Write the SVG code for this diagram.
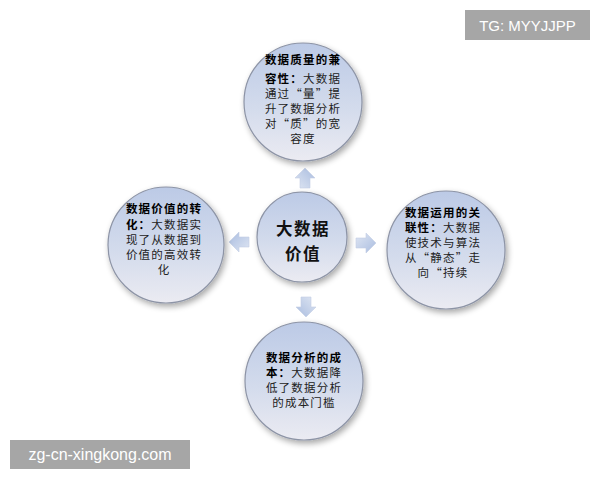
<svg xmlns="http://www.w3.org/2000/svg" width="600" height="480" viewBox="0 0 600 480">
<defs>
<linearGradient id="cg" x1="0" y1="0" x2="0" y2="1">
<stop offset="0" stop-color="#bccae6"/>
<stop offset="0.55" stop-color="#d3dbec"/>
<stop offset="1" stop-color="#ebebf2"/>
</linearGradient>
<linearGradient id="ag" x1="0" y1="0" x2="1" y2="1">
<stop offset="0" stop-color="#dfe6f3"/>
<stop offset="1" stop-color="#a9bcdf"/>
</linearGradient>
<filter id="sh" x="-20%" y="-20%" width="140%" height="140%">
<feGaussianBlur in="SourceAlpha" stdDeviation="3"/>
<feOffset dx="2" dy="3" result="b"/>
<feComponentTransfer><feFuncA type="linear" slope="0.35"/></feComponentTransfer>
<feMerge><feMergeNode/><feMergeNode in="SourceGraphic"/></feMerge>
</filter>
<polygon id="arr" points="-10,-5 0,-5 0,-10 10,0 0,10 0,5 -10,5"/>
</defs>
<style>
.c{fill:url(#cg);stroke:#8d94a6;stroke-width:1.2;filter:url(#sh)}
.t{font-family:"Noto Sans CJK SC","Noto Sans",sans-serif;font-size:11.5px;fill:#222;text-anchor:middle;letter-spacing:1.2px}
.b{font-weight:bold;fill:#000}
.m{font-family:"Noto Sans CJK SC","Noto Sans",sans-serif;font-size:16.5px;font-weight:bold;fill:#111;text-anchor:middle;letter-spacing:1.5px}
.a{fill:url(#ag);stroke:#c4cfe4;stroke-width:0.6}
.wm{fill:#a6a6a6}
.wt{font-family:"Liberation Sans","Noto Sans",sans-serif;fill:#fff}
</style>
<rect width="600" height="480" fill="#fff"/>

<g id="connectors">
<use href="#arr" class="a" transform="translate(305,178) rotate(-90)"/>
<use href="#arr" class="a" transform="translate(239,242) rotate(180)"/>
<use href="#arr" class="a" transform="translate(366,243)"/>
<use href="#arr" class="a" transform="translate(306,307) rotate(90)"/>
</g>

<g id="top">
<circle class="c" cx="303" cy="102" r="59"/>
<text class="t" x="303" y="64"><tspan class="b">数据质量的兼</tspan></text>
<text class="t" x="303" y="83"><tspan class="b">容性：</tspan>大数据</text>
<text class="t" x="303" y="98">通过“量”提</text>
<text class="t" x="303" y="113">升了数据分析</text>
<text class="t" x="303" y="128">对“质”的宽</text>
<text class="t" x="303" y="143">容度</text>
</g>

<g id="left">
<circle class="c" cx="166" cy="245" r="58"/>
<text class="t" x="164" y="213"><tspan class="b">数据价值的转</tspan></text>
<text class="t" x="164" y="229"><tspan class="b">化：</tspan>大数据实</text>
<text class="t" x="164" y="244">现了从数据到</text>
<text class="t" x="164" y="259">价值的高效转</text>
<text class="t" x="164" y="274">化</text>
</g>

<g id="right">
<circle class="c" cx="446" cy="250" r="59"/>
<text class="t" x="443" y="217"><tspan class="b">数据运用的关</tspan></text>
<text class="t" x="443" y="232"><tspan class="b">联性：</tspan>大数据</text>
<text class="t" x="443" y="247">使技术与算法</text>
<text class="t" x="443" y="262">从“静态”走</text>
<text class="t" x="443" y="277">向“持续</text>
</g>

<g id="bottom">
<circle class="c" cx="304" cy="381" r="59"/>
<text class="t" x="304" y="362"><tspan class="b">数据分析的成</tspan></text>
<text class="t" x="304" y="377"><tspan class="b">本：</tspan>大数据降</text>
<text class="t" x="304" y="392">低了数据分析</text>
<text class="t" x="304" y="407">的成本门槛</text>
</g>

<g id="center">
<circle class="c" cx="302" cy="237" r="45"/>
<text class="m" x="303" y="235">大数据</text>
<text class="m" x="303" y="260">价值</text>
</g>

<g id="wm1">
<rect class="wm" x="465" y="10" width="125" height="30"/>
<text class="wt" x="527.5" y="31" font-size="15" text-anchor="middle">TG: MYYJJPP</text>
</g>
<g id="wm2">
<rect class="wm" x="10" y="440" width="180" height="29"/>
<text class="wt" x="100" y="460" font-size="16" text-anchor="middle">zg-cn-xingkong.com</text>
</g>
</svg>
